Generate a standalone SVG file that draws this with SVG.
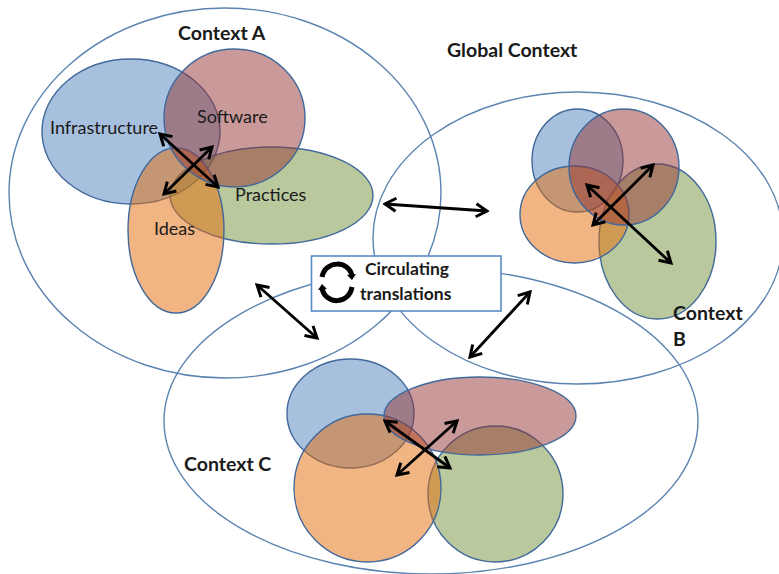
<svg xmlns="http://www.w3.org/2000/svg" width="779" height="574" viewBox="0 0 779 574">
<style>
.ctx{fill:none;stroke:#5b84b1;stroke-width:1.4}
.s{stroke:#41689a;stroke-width:1.4}
.b{fill:#4f81bd;fill-opacity:.5}
.r{fill:#943634;fill-opacity:.5}
.o{fill:#e36c0a;fill-opacity:.5}
.g{fill:#76923c;fill-opacity:.5}
text{font-family:Lato,"Liberation Sans",sans-serif;fill:#1a1a1a}
.t{font-size:18px}
.m{font-size:17.500px;font-weight:700}
.h{font-size:19.500px;font-weight:700}
.arrow{fill:none;stroke:#000;stroke-width:2.8;marker-start:url(#head);marker-end:url(#head)}
.cyc{fill:none;stroke:#000;stroke-width:5}
</style>
<defs>
<marker id="head" viewBox="0 0 16 16" refX="13.500" refY="8" markerUnits="userSpaceOnUse" markerWidth="16" markerHeight="16" orient="auto-start-reverse">
<path d="M2.500 1.500L13.500 8L2.500 14.500" fill="none" stroke="#000" stroke-width="3"/>
</marker>
</defs>
<rect width="779" height="574" fill="#fff"/>
<g id="context-a-outline"><ellipse class="ctx" cx="225" cy="193" rx="216" ry="185"/></g>
<g id="context-b-outline"><ellipse class="ctx" cx="578" cy="238" rx="205" ry="146"/></g>
<g id="context-c-outline"><ellipse class="ctx" cx="431" cy="421" rx="267" ry="153"/></g>
<g id="a-infrastructure"><ellipse class="b s" cx="131" cy="131.500" rx="89" ry="72.500"/></g>
<g id="a-practices"><ellipse class="g s" cx="271.500" cy="195.500" rx="101.500" ry="48.500"/></g>
<g id="a-ideas"><ellipse class="o s" cx="176" cy="230.500" rx="48" ry="82.500"/></g>
<g id="a-software"><ellipse class="r s" cx="234.500" cy="118" rx="70.500" ry="69"/></g>
<g id="b-blue"><ellipse class="b s" cx="577.500" cy="160.500" rx="45.500" ry="51.500"/></g>
<g id="b-green"><ellipse class="g s" cx="657.500" cy="241.500" rx="58.500" ry="77.500"/></g>
<g id="b-orange"><ellipse class="o s" cx="574.500" cy="214.500" rx="54.500" ry="48.500"/></g>
<g id="b-red"><ellipse class="r s" cx="624" cy="167" rx="55" ry="58"/></g>
<g id="c-blue"><ellipse class="b s" cx="350.500" cy="413.500" rx="63.500" ry="54.500"/></g>
<g id="c-green"><ellipse class="g s" cx="495.500" cy="494" rx="67.500" ry="68"/></g>
<g id="c-orange"><ellipse class="o s" cx="367.500" cy="488" rx="73.500" ry="74"/></g>
<g id="c-red"><ellipse class="r s" cx="480" cy="416" rx="96" ry="39"/></g>
<g id="connectors">
<line class="arrow" x1="160" y1="134" x2="218" y2="187"/>
<line class="arrow" x1="164" y1="194" x2="212" y2="147"/>
<line class="arrow" x1="385" y1="204" x2="487" y2="211"/>
<line class="arrow" x1="257" y1="285" x2="317" y2="338"/>
<line class="arrow" x1="530" y1="292" x2="470" y2="357"/>
<line class="arrow" x1="587" y1="185" x2="671" y2="263"/>
<line class="arrow" x1="593" y1="225" x2="653" y2="165"/>
<line class="arrow" x1="385" y1="421" x2="450" y2="468"/>
<line class="arrow" x1="397" y1="475" x2="457" y2="421"/>
</g>
<g id="circulating-translations">
<rect x="311.500" y="256" width="189.500" height="55" fill="#fff" stroke="#5b8ac4" stroke-width="1.600"/>
<path class="cyc" d="M322 277C325 260 349 260 352 276M352 287C349 305 325 305 322 288"/>
<path d="M347 275L356 274L352 280Z M327 289L318 290L322 284Z" fill="#000"/>
<text class="m" x="365" y="275">Circulating</text>
<text class="m" x="360" y="300">translations</text>
</g>
<g id="labels">
<text class="h" x="178" y="40">Context A</text>
<text class="h" x="447" y="57">Global Context</text>
<text class="h" x="673" y="320">Context</text>
<text class="h" x="673" y="346">B</text>
<text class="h" x="184" y="471">Context C</text>
<text class="t" x="50" y="134">Infrastructure</text>
<text class="t" x="197" y="123">Software</text>
<text class="t" x="235" y="201">Practices</text>
<text class="t" x="154" y="235">Ideas</text>
</g>
</svg>
